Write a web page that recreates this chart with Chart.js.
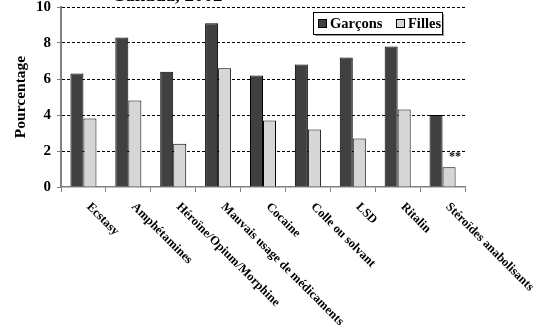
<!DOCTYPE html>
<html>
<head>
<meta charset="utf-8">
<script src="https://cdn.jsdelivr.net/npm/chart.js@4/dist/chart.umd.min.js"></script>
<style>
html,body{margin:0;padding:0;background:#fff;}
#wrap{width:536px;height:331px;position:relative;}
</style>
</head>
<body>
<div id="wrap"><canvas id="c" width="536" height="331"></canvas></div>
<script>
const categories = ["Ecstasy","Amphétamines","Héroïne/Opium/Morphine","Mauvais usage de médicaments","Cocaine","Colle ou solvant","LSD","Ritalin","Stéroïdes anabolisants"];
const garcons = [6.3, 8.3, 6.4, 9.1, 6.2, 6.8, 7.2, 7.8, 4.0];
const filles  = [3.8, 4.8, 2.4, 6.6, 3.7, 3.2, 2.7, 4.3, 1.1];
const fillesNotes = ["", "", "", "", "", "", "", "", "**"];
const yTicks = [0, 2, 4, 6, 8, 10];
const seriesLabels = ["Garçons", "Filles"];
const titleText = "Canada, 2002";
const yTitle = "Pourcentage";

const FONT = '"Liberation Serif", "Times New Roman", serif';
const DARK = '#404040', LIGHT = '#d6d6d6';

const customPlugin = {
  id: 'custom',
  afterDraw(chart) {
    const ctx = chart.ctx;
    const xs = chart.scales.x;
    const ca = chart.chartArea;
    ctx.save();
    // rotated category labels
    ctx.fillStyle = '#000';
    ctx.font = 'bold 12.5px ' + FONT;
    ctx.textAlign = 'left';
    ctx.textBaseline = 'middle';
    categories.forEach((lab, i) => {
      const x = xs.getPixelForTick(i);
      ctx.save();
      ctx.translate(x + 5, ca.bottom + 18);
      ctx.rotate(Math.PI / 4);
      ctx.fillText(lab, 0, 0);
      ctx.restore();
    });
    // notes above bars
    const meta = chart.getDatasetMeta(1);
    ctx.font = 'bold 12px ' + FONT;
    ctx.textAlign = 'center';
    ctx.textBaseline = 'bottom';
    meta.data.forEach((bar, i) => {
      if (fillesNotes[i]) ctx.fillText(fillesNotes[i], bar.x + 6, bar.y - 4);
    });
    // partial title (clipped at top)
    ctx.font = 'bold 19px ' + FONT;
    ctx.textAlign = 'center';
    ctx.textBaseline = 'alphabetic';
    ctx.fillText(titleText, 167, 1);
    // legend box
    const lx = 313, ly = 12, lw = 129, lh = 22;
    ctx.fillStyle = '#999';
    ctx.fillRect(lx + 2, ly + 2, lw, lh);
    ctx.fillStyle = '#fff';
    ctx.fillRect(lx, ly, lw, lh);
    ctx.strokeStyle = '#000';
    ctx.lineWidth = 1;
    ctx.strokeRect(lx + 0.5, ly + 0.5, lw, lh);
    ctx.font = 'bold 14.5px ' + FONT;
    ctx.textAlign = 'left';
    ctx.textBaseline = 'middle';
    const items = [[seriesLabels[0], DARK, lx + 5], [seriesLabels[1], LIGHT, lx + 83]];
    items.forEach(([t, c, x]) => {
      ctx.fillStyle = c;
      ctx.fillRect(x + 0.5, ly + 7.5, 8, 8);
      ctx.strokeStyle = '#000';
      ctx.strokeRect(x + 0.5, ly + 7.5, 8, 8);
      ctx.fillStyle = '#000';
      ctx.fillText(t, x + 12, ly + 12);
    });
    ctx.restore();
  }
};

new Chart(document.getElementById('c'), {
  type: 'bar',
  data: {
    labels: categories,
    datasets: [
      { label: seriesLabels[0], data: garcons, backgroundColor: DARK, borderColor: '#000', borderWidth: 1, categoryPercentage: 0.58, barPercentage: 1.0 },
      { label: seriesLabels[1], data: filles, backgroundColor: LIGHT, borderColor: '#000', borderWidth: 1, categoryPercentage: 0.58, barPercentage: 1.0 }
    ]
  },
  options: {
    responsive: false,
    animation: false,
    devicePixelRatio: 1,
    layout: { padding: { top: 7, right: 71, left: 0, bottom: 0 } },
    plugins: { legend: { display: false }, tooltip: { enabled: false } },
    scales: {
      x: {
        offset: true,
        grid: { offset: true, drawOnChartArea: false, drawTicks: true, tickLength: 5, tickColor: '#808080', tickWidth: 1 },
        border: { display: true, color: '#808080', width: 1.5 },
        ticks: { display: false },
        afterFit(scale) { scale.height = 144; scale.paddingLeft = 0; scale.paddingRight = 0; }
      },
      y: {
        min: 0, max: 10,
        afterBuildTicks(scale) { scale.ticks = yTicks.map(v => ({ value: v })); },
        grid: {
          color: (c) => (c.tick && c.tick.value === 0) ? 'rgba(0,0,0,0)' : '#000',
          lineWidth: 1, tickLength: 4, tickColor: '#808080', tickWidth: 1
        },
        border: { display: true, color: '#808080', width: 2, dash: [3, 2] },
        ticks: { color: '#000', font: { family: FONT, size: 15, weight: 'bold' }, padding: 6 },
        title: { display: true, text: yTitle, color: '#000', font: { family: FONT, size: 15.5, weight: 'bold' }, padding: { top: 12, bottom: 0 } },
        afterFit(scale) { scale.width = 61; scale.paddingTop = 0; scale.paddingBottom = 0; }
      }
    }
  },
  plugins: [customPlugin]
});
</script>
</body>
</html>
